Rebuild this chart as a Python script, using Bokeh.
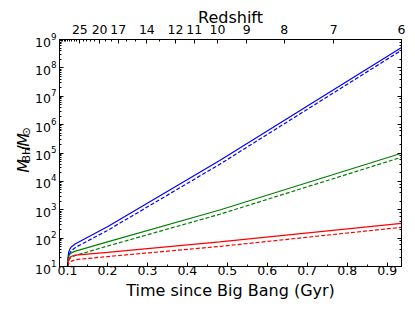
import numpy as np
from bokeh.plotting import figure
from bokeh.layouts import row
from bokeh.models import (LinearAxis, LogAxis, FixedTicker, LogTicker, Label,
                          CustomJSTickFormatter, Range1d, SingleIntervalTicker)
from bokeh.embed import file_html
from bokeh.resources import INLINE

# ---- data ----
time_gyr = [0.100, 0.101, 0.103, 0.106, 0.110, 0.120, 0.200, 0.481, 0.936]
mbh_blue_solid = [10, 20, 31.6, 41.7, 50, 63, 251, 5.4e4, 5.2e8]
mbh_blue_dashed = [10, 15, 23, 30, 36, 47, 186, 4.0e4, 4.2e8]
mbh_green_solid = [10, 15.8, 22.4, 26.9, 30.2, 34.7, 74, 977, 9.8e4]
mbh_green_dashed = [10, 12, 15.8, 19, 21.4, 24.5, 52.5, 692, 7.1e4]
mbh_red_solid = [10, 14.1, 18.2, 20.9, 22.9, 25.1, 31.6, 74, 331]
mbh_red_dashed = [10, 11, 12.6, 14.1, 15.5, 17.4, 22.4, 51, 240]

redshift_labels = [25, 20, 17, 14, 12, 11, 10, 9, 8, 7, 6]
redshift_minor = list(range(6, 36))


def age_gyr(z, H0=67.8, Om=0.307):
    OL = 1.0 - Om
    tH = 977.8 / H0
    return 2.0 / 3.0 * tH / np.sqrt(OL) * np.arcsinh(np.sqrt(OL / Om) * (1.0 + np.asarray(z, float)) ** -1.5)


t_end = float(age_gyr(6))
FONT = "DejaVu Sans"
H = 310
LW = 32  # width of the strip holding the y-axis title

p = figure(width=408 - LW, height=H, output_backend="svg", toolbar_location=None,
           x_range=Range1d(0.08, t_end), y_range=Range1d(10, 1e9), y_axis_type="log",
           min_border_left=57 - LW, min_border_right=7, min_border_top=39, min_border_bottom=44)
p.xgrid.visible = False
p.ygrid.visible = False
p.outline_line_color = "black"
p.outline_line_width = 1
p.background_fill_color = "white"
p.border_fill_color = "white"

series = [
    (mbh_blue_solid, "#0000ff", "solid"),
    (mbh_blue_dashed, "#0000ff", "4 2"),
    (mbh_green_solid, "#008000", "solid"),
    (mbh_green_dashed, "#008000", "4 2"),
    (mbh_red_solid, "#ff0000", "solid"),
    (mbh_red_dashed, "#ff0000", "4 2"),
]
for ys, c, d in series:
    p.line(time_gyr, ys, line_color=c, line_width=1.2, line_dash=d)


def style_axis(ax, size="12.5px"):
    ax.major_tick_in = 4
    ax.major_tick_out = 0
    ax.minor_tick_in = 2
    ax.minor_tick_out = 0
    ax.major_label_text_font = FONT
    ax.major_label_text_font_size = size
    ax.major_label_text_color = "black"
    ax.axis_line_color = "black"
    ax.major_tick_line_color = "black"
    ax.minor_tick_line_color = "black"
    ax.axis_label_text_font = FONT
    ax.axis_label_text_font_style = "normal"
    ax.axis_label_text_font_size = "16px"
    ax.axis_label_text_color = "black"


# bottom axis
xa = p.xaxis[0]
xa.ticker = SingleIntervalTicker(interval=0.1, num_minor_ticks=2)
style_axis(xa)
xa.major_label_standoff = -1
xa.axis_label = "Time since Big Bang (Gyr)"
xa.axis_label_standoff = 3

# left axis
ya = p.yaxis[0]
style_axis(ya)
ya.major_label_standoff = 3

# right axis (ticks only, labels invisible)
ra = LogAxis(ticker=LogTicker())
style_axis(ra, size="2px")
ra.major_label_text_alpha = 0
ra.major_label_standoff = 0
p.add_layout(ra, "right")

# top redshift axis
major_t = [float(v) for v in age_gyr(redshift_labels)]
minor_t = [float(v) for v in age_gyr(redshift_minor)]
ta = LinearAxis(ticker=FixedTicker(ticks=major_t, minor_ticks=minor_t),
                formatter=CustomJSTickFormatter(args=dict(ts=major_t, zs=redshift_labels), code="""
let best = 0;
for (let i = 0; i < ts.length; i++) {
  if (Math.abs(ts[i] - tick) < Math.abs(ts[best] - tick)) best = i;
}
return String(zs[best]);
"""))
style_axis(ta)
ta.major_label_standoff = 6
ta.axis_label = "Redshift"
ta.axis_label_standoff = -5
p.add_layout(ta, "above")

# strip on the left holding the y-axis title M_BH / M_sun (rotated text)
lp = figure(width=LW, height=H, output_backend="svg", toolbar_location=None,
            x_range=Range1d(0, LW), y_range=Range1d(0, H),
            x_axis_location=None, y_axis_location=None,
            min_border=0, outline_line_color=None)
lp.xgrid.visible = False
lp.ygrid.visible = False
ang = np.pi / 2
pieces = [
    (23, 128, "M", "16px", "italic"),
    (26, 142, "BH", "11px", "normal"),
    (23, 158, "/", "16px", "normal"),
    (23, 163.5, "M", "16px", "italic"),
    (26, 177.5, "\u2299", "11px", "normal"),
]
for x, y, txt, fs, st in pieces:
    lp.add_layout(Label(x=x, y=y, text=txt, angle=ang,
                        text_font=FONT, text_font_size=fs, text_font_style=st,
                        text_align="left", text_baseline="alphabetic", text_color="black"))

layout = row(lp, p, spacing=0)
open("out.html", "w").write(file_html(layout, INLINE))
